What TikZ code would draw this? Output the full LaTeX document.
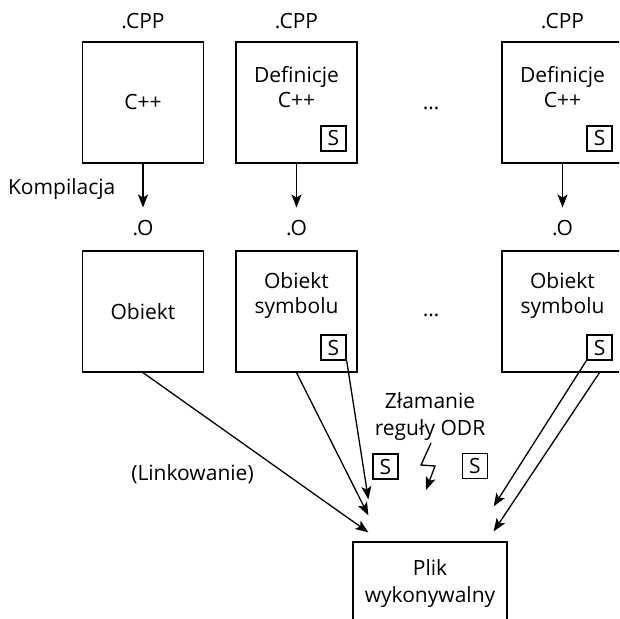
\documentclass[tikz,border=0pt]{standalone}
\usepackage{fontspec}
\setmainfont{Open Sans}
\usetikzlibrary{positioning,arrows.meta}

\begin{document}
\begin{tikzpicture}[x=0.5pt,y=-0.5pt,line width=0.65pt]
\tikzstyle{every node}=[font=\fontsize{10.5}{12.5}\selectfont,inner sep=0pt];
\tikzstyle{unit}=[draw,minimum width=60.5pt,minimum height=60.5pt];
\tikzstyle{sym}=[draw,minimum size=12.5pt];
\tikzstyle{arr}=[-{Stealth[length=6.5pt,width=5pt,inset=1.5pt]}];
\useasboundingbox (0,0) rectangle (619,619);
\clip (0,0) rectangle (619,619);

% pliki zrodlowe
\node[unit] (cpp1) at (143,102.5) {C++};
\node[unit] (cpp2) at (296.5,102.5) {};
\node[unit] (cpp3) at (562.5,102.5) {};
\node[align=center,yshift=7.5pt] (def2) at (cpp2) {Definicje\\C++};
\node[align=center,yshift=7.5pt] (def3) at (cpp3) {Definicje\\C++};
\node[sym,anchor=south east] (s2a) at ([shift={(-5.5pt,6pt)}]cpp2.south east) {S};
\node[sym,anchor=south east] (s3a) at ([shift={(-5.5pt,6pt)}]cpp3.south east) {S};
\node[above=6pt of cpp1] (e1) {.CPP};
\node[above=6pt of cpp2] (e2) {.CPP};
\node[above=6pt of cpp3] (e3) {.CPP};
\node (dots1) at (431,108) {\ldots};

% pliki obiektowe
\node[unit] (obj1) at (143,311.5) {Obiekt};
\node[unit] (obj2) at (296.5,311.5) {};
\node[unit] (obj3) at (562.5,311.5) {};
\node[align=center,yshift=8pt] (sym2) at (obj2) {Obiekt\\symbolu};
\node[align=center,yshift=8pt] (sym3) at (obj3) {Obiekt\\symbolu};
\node[sym,anchor=south east] (s2b) at ([shift={(-5.5pt,6pt)}]obj2.south east) {S};
\node[sym,anchor=south east] (s3b) at ([shift={(-5.5pt,6pt)}]obj3.south east) {S};
\node[above=7pt of obj1] (o1) {.O};
\node[above=7pt of obj2] (o2) {.O};
\node[above=7pt of obj3] (o3) {.O};
\node (dots2) at (431,315) {\ldots};

\node[anchor=base east] (komp) at (116,195) {Kompilacja};
\draw[arr,shorten >=6pt] (cpp1) -- (o1);
\draw[arr,shorten >=6pt] (cpp2) -- (o2);
\draw[arr,shorten >=6pt] (cpp3) -- (o3);

% linkowanie
\node[unit,minimum width=77pt,minimum height=41.5pt,align=center,
  font=\fontsize{10.5}{13.5}\selectfont] (exe) at (430,583.5) {Plik\\wykonywalny};
\coordinate (t1) at ([shift={(8pt,4.5pt)}]exe.north west);
\coordinate (t2) at ([shift={(8pt,13pt)}]exe.north west);
\coordinate (t3) at ([shift={(8pt,21pt)}]exe.north west);
\coordinate (t4) at ([shift={(-7pt,5pt)}]exe.north east);
\coordinate (t5) at ([shift={(-7pt,17.5pt)}]exe.north east);
\draw[arr] (obj1.south) -- (t1);
\draw[arr] (obj2.south) -- (t2);
\draw[arr] (s2b.south east) -- (t3);
\draw[arr] (s3b.south |- obj3.south) -- (t4);
\draw[arr] (s3b.south west) -- (t5);
\node (link) at (192.5,474) {(Linkowanie)};

% konflikt definicji
\node[align=center,font=\fontsize{10.5}{13.5}\selectfont] (odr) at (430,417) {Złamanie\\reguły ODR};
\node[sym] (sl) at (385.5,466.5) {S};
\node[sym] (sr) at (475,466) {S};
\coordinate (zap) at (431,443);
\draw[arr] (zap) -- ++(-10,22) -- ++(14,1) -- ++(-9,24);
\end{tikzpicture}
\end{document}
